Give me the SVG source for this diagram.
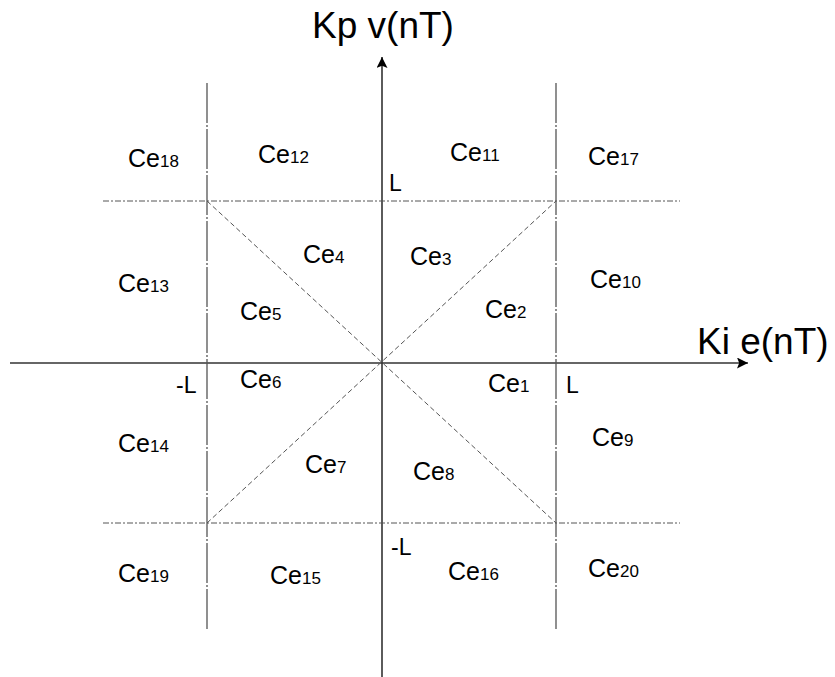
<svg xmlns="http://www.w3.org/2000/svg" width="835" height="677" viewBox="0 0 835 677">
<defs>
<marker id="arr" viewBox="0 0 10 10" refX="10" refY="5" markerWidth="11" markerHeight="11" markerUnits="userSpaceOnUse" orient="auto">
<path d="M0,0 L10,5 L0,10 L2,5 z" fill="#000"/>
</marker>
<style>
.ax{stroke:#333;stroke-width:1.6;fill:none}
.grid{stroke:#555;stroke-width:1;stroke-dasharray:6,2,2,2;fill:none}
.vgrid{stroke:#555;stroke-width:1.3;stroke-dasharray:40,2,2,2;fill:none}
.diag{stroke:#555;stroke-width:1;stroke-dasharray:5,3;fill:none}
text{font-family:"Liberation Sans",Arial,sans-serif;fill:#000}
.lb{font-size:25px}
.sb{font-size:17px}
.ll{font-size:23px}
.ti{font-size:37px}
</style>
</defs>
<g id="connectors">
<line class="ax" x1="10" y1="363" x2="748" y2="363" marker-end="url(#arr)"/>
<line class="ax" x1="382" y1="677" x2="382" y2="57" marker-end="url(#arr)"/>
<line class="grid" x1="103" y1="201" x2="680" y2="201"/>
<line class="grid" x1="103" y1="523" x2="680" y2="523"/>
<line class="vgrid" x1="207" y1="83" x2="207" y2="629"/>
<line class="vgrid" x1="556" y1="83" x2="556" y2="629"/>
<line class="diag" x1="207" y1="201" x2="556" y2="523"/>
<line class="diag" x1="207" y1="523" x2="556" y2="201"/>
</g>
<g id="axis-labels">
<text class="ti" x="383" y="38" text-anchor="middle">Kp v(nT)</text>
<text class="ti" x="697" y="354">Ki e(nT)</text>
<text class="ll" x="389" y="191">L</text>
<text class="ll" x="566" y="393">L</text>
<text class="ll" x="176" y="393">-L</text>
<text class="ll" x="391" y="555">-L</text>
</g>
<g id="cells">
<g id="ce18"><text class="lb" x="128" y="167">Ce<tspan class="sb">18</tspan></text></g>
<g id="ce12"><text class="lb" x="258" y="163">Ce<tspan class="sb">12</tspan></text></g>
<g id="ce11"><text class="lb" x="450" y="161">Ce<tspan class="sb">11</tspan></text></g>
<g id="ce17"><text class="lb" x="588" y="165">Ce<tspan class="sb">17</tspan></text></g>
<g id="ce4"><text class="lb" x="303" y="263">Ce<tspan class="sb">4</tspan></text></g>
<g id="ce3"><text class="lb" x="410" y="265">Ce<tspan class="sb">3</tspan></text></g>
<g id="ce13"><text class="lb" x="118" y="292">Ce<tspan class="sb">13</tspan></text></g>
<g id="ce10"><text class="lb" x="590" y="288">Ce<tspan class="sb">10</tspan></text></g>
<g id="ce5"><text class="lb" x="240" y="320">Ce<tspan class="sb">5</tspan></text></g>
<g id="ce2"><text class="lb" x="485" y="318">Ce<tspan class="sb">2</tspan></text></g>
<g id="ce6"><text class="lb" x="240" y="388">Ce<tspan class="sb">6</tspan></text></g>
<g id="ce1"><text class="lb" x="488" y="392">Ce<tspan class="sb">1</tspan></text></g>
<g id="ce9"><text class="lb" x="592" y="446">Ce<tspan class="sb">9</tspan></text></g>
<g id="ce14"><text class="lb" x="118" y="452">Ce<tspan class="sb">14</tspan></text></g>
<g id="ce7"><text class="lb" x="305" y="473">Ce<tspan class="sb">7</tspan></text></g>
<g id="ce8"><text class="lb" x="413" y="480">Ce<tspan class="sb">8</tspan></text></g>
<g id="ce19"><text class="lb" x="118" y="582">Ce<tspan class="sb">19</tspan></text></g>
<g id="ce15"><text class="lb" x="270" y="584">Ce<tspan class="sb">15</tspan></text></g>
<g id="ce16"><text class="lb" x="448" y="580">Ce<tspan class="sb">16</tspan></text></g>
<g id="ce20"><text class="lb" x="588" y="577">Ce<tspan class="sb">20</tspan></text></g>
</g>
</svg>
